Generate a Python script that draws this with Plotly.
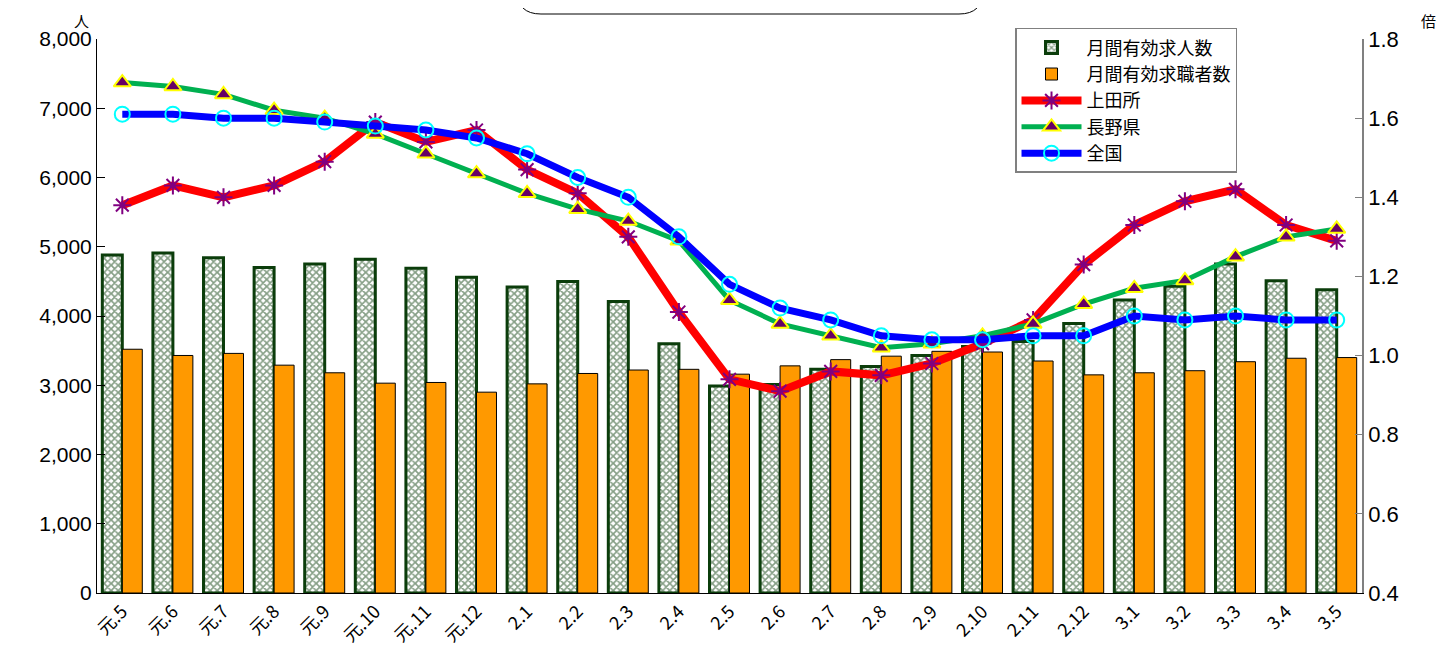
import plotly.graph_objects as go

categories = ["元.5", "元.6", "元.7", "元.8", "元.9", "元.10", "元.11", "元.12",
              "2.1", "2.2", "2.3", "2.4", "2.5", "2.6", "2.7", "2.8", "2.9", "2.10", "2.11", "2.12",
              "3.1", "3.2", "3.3", "3.4", "3.5"]

openings = [4880, 4910, 4840, 4700, 4750, 4820, 4690, 4560,
            4420, 4500, 4210, 3600, 2990, 3010, 3230, 3270, 3430, 3560, 3630, 3890,
            4230, 4430, 4750, 4510, 4380]

seekers = [3520, 3430, 3460, 3290, 3180, 3030, 3040, 2900,
           3020, 3170, 3220, 3230, 3160, 3280, 3370, 3420, 3490, 3480, 3350, 3150,
           3180, 3210, 3340, 3390, 3400]

ueda = [1.38, 1.43, 1.40, 1.43, 1.49, 1.59, 1.54, 1.57,
        1.47, 1.41, 1.30, 1.11, 0.94, 0.91, 0.96, 0.95, 0.98, 1.03, 1.09, 1.23,
        1.33, 1.39, 1.42, 1.33, 1.29]

nagano = [1.69, 1.68, 1.66, 1.62, 1.60, 1.56, 1.51, 1.46,
          1.41, 1.37, 1.34, 1.29, 1.14, 1.08, 1.05, 1.02, 1.03, 1.05, 1.08, 1.13,
          1.17, 1.19, 1.25, 1.30, 1.32]

zenkoku = [1.61, 1.61, 1.60, 1.60, 1.59, 1.58, 1.57, 1.55,
           1.51, 1.45, 1.40, 1.30, 1.18, 1.12, 1.09, 1.05, 1.04, 1.04, 1.05, 1.05,
           1.10, 1.09, 1.10, 1.09, 1.09]

left_ticks = [0, 1000, 2000, 3000, 4000, 5000, 6000, 7000, 8000]
right_ticks = [0.4, 0.6, 0.8, 1.0, 1.2, 1.4, 1.6, 1.8]

JP = "Noto Sans CJK JP"
NUM = "Liberation Sans"

fig = go.Figure()

fig.add_trace(go.Bar(
    x=categories, y=openings, name="月間有効求人数",
    marker=dict(color="white",
                line=dict(color="#0b3d0b", width=3),
                pattern=dict(shape="x", fgcolor="#0b3d0b", bgcolor="white",
                             size=5, solidity=0.55)),
    yaxis="y"))

fig.add_trace(go.Bar(
    x=categories, y=seekers, name="月間有効求職者数",
    marker=dict(color="#FF9900", line=dict(color="black", width=1)),
    yaxis="y"))

fig.add_trace(go.Scatter(
    x=categories, y=ueda, name="上田所", mode="lines+markers",
    line=dict(color="#FF0000", width=8),
    marker=dict(symbol="asterisk-open", size=15, color="#800080",
                line=dict(color="#800080", width=2)),
    yaxis="y2"))

fig.add_trace(go.Scatter(
    x=categories, y=nagano, name="長野県", mode="lines+markers",
    line=dict(color="#00B050", width=5),
    marker=dict(symbol="triangle-up", size=15, color="#660066",
                line=dict(color="#FFFF00", width=2)),
    yaxis="y2"))

fig.add_trace(go.Scatter(
    x=categories, y=zenkoku, name="全国", mode="lines+markers",
    line=dict(color="#0000FF", width=7),
    marker=dict(symbol="circle-open", size=15, color="#00FFFF",
                line=dict(color="#00FFFF", width=2)),
    yaxis="y2"))

# decorative rounded title box cut off at top
x0, x1 = 0.332, 0.7004
yb = 1.0451
dx, dy = 24 / 1265, 24 / 554
path = (f"M {x0},1.12 L {x0},{yb+dy} Q {x0},{yb} {x0+dx},{yb} "
        f"L {x1-dx},{yb} Q {x1},{yb} {x1},{yb+dy} L {x1},1.12")

fig.update_layout(
    width=1454, height=662,
    margin=dict(l=89, r=100, t=31, b=77),
    paper_bgcolor="white", plot_bgcolor="white",
    barmode="group", bargap=0.21, bargroupgap=0,
    showlegend=True,
    legend=dict(x=0.7257, y=1.02, xanchor="left", yanchor="top",
                bgcolor="white", bordercolor="#808080", borderwidth=1.5,
                font=dict(family=JP, size=18, color="black"),
                itemwidth=60,
                tracegroupgap=0, traceorder="normal"),
    xaxis=dict(type="category", range=[-0.5, len(categories) - 0.5],
               autorange=False, tickangle=-45, showline=True,
               linecolor="black", linewidth=1, ticks="",
               tickfont=dict(family=JP, size=18, color="black"),
               showgrid=False, mirror=False),
    yaxis=dict(range=[0, 8000], tickvals=left_ticks, tickformat=",",
               showline=True, linecolor="black", linewidth=1,
               ticks="inside", ticklen=8, tickcolor="black",
               showgrid=False, zeroline=False,
               tickfont=dict(family=NUM, size=21, color="black")),
    yaxis2=dict(range=[0.4, 1.8], tickvals=right_ticks, tickformat=".1f",
                overlaying="y", side="right",
                showline=True, linecolor="#808080", linewidth=1.5,
                ticks="inside", ticklen=7, tickcolor="#808080",
                showgrid=False, zeroline=False,
                tickfont=dict(family=NUM, size=22, color="black")),
    shapes=[dict(type="path", path=path, xref="paper", yref="paper",
                 line=dict(color="black", width=1))],
    annotations=[
        dict(text="人", xref="paper", yref="paper", x=-0.012, y=1.0105,
             showarrow=False, font=dict(family=JP, size=15, color="black"),
             xanchor="center", yanchor="bottom"),
        dict(text="倍", xref="paper", yref="paper", x=1.0525, y=1.0105,
             showarrow=False, font=dict(family=JP, size=15, color="black"),
             xanchor="center", yanchor="bottom"),
    ],
)

fig.write_html("out.html")
